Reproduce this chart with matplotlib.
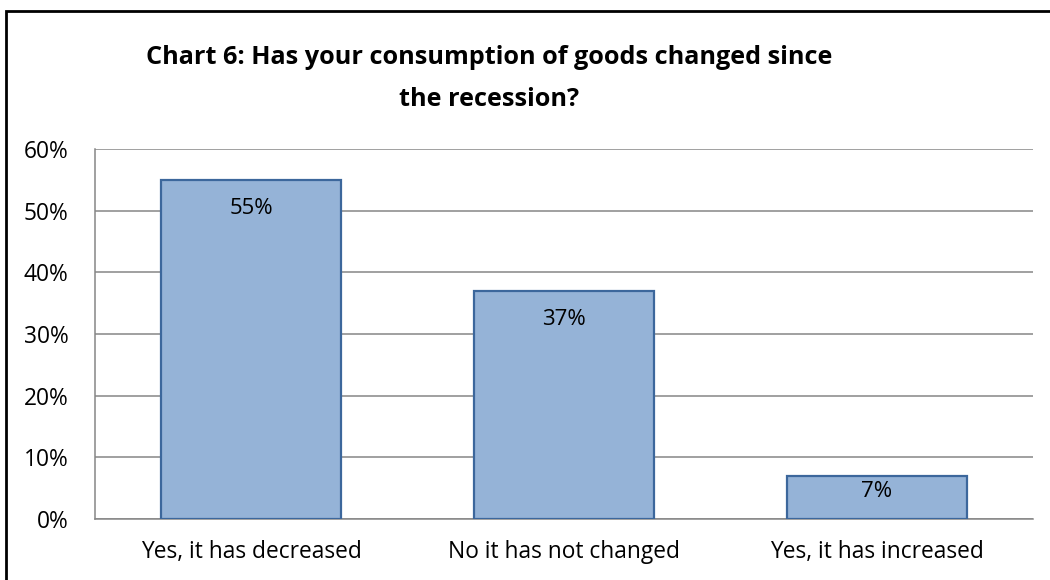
import numpy as np
import matplotlib.pyplot as plt
from matplotlib.patches import Rectangle
from matplotlib.ticker import PercentFormatter

categories = ["Yes, it has decreased", "No it has not changed", "Yes, it has increased"]
shares = [55, 37, 7]
y_ticks = [0, 10, 20, 30, 40, 50, 60]
title = "Chart 6: Has your consumption of goods changed since\nthe recession?"

plt.rcParams["font.family"] = ["Open Sans", "DejaVu Sans"]

fig = plt.figure(figsize=(10.5, 5.8), dpi=100)
ax = fig.add_axes([0.0905, 0.1052, 0.8933, 0.6379])

x = np.arange(len(categories))
bars = ax.bar(x, shares, width=0.575, color="#95B3D7", edgecolor="#3C679C",
              linewidth=1.6, zorder=3)

# labels sit just inside the top of each bar (pixel offsets)
label_drop_px = [29, 29, 16]
for rect, val, drop in zip(bars, shares, label_drop_px):
    ax.annotate(f"{val}%", (rect.get_x() + rect.get_width() / 2, val),
                xytext=(0, -drop * 72 / fig.dpi), textcoords="offset points",
                ha="center", va="center", fontsize=16, color="black", zorder=4)

ax.set_xlim(-0.5, len(categories) - 0.5)
ax.set_ylim(0, 60)
ax.set_yticks(y_ticks)
ax.yaxis.set_major_formatter(PercentFormatter(decimals=0))
ax.set_xticks(x)
ax.set_xticklabels(categories)
ax.tick_params(axis="both", length=0, labelsize=16.4)
ax.tick_params(axis="y", pad=19)
ax.tick_params(axis="x", pad=15)

ax.grid(axis="y", color="#868686", linewidth=1.1, zorder=0)
for side in ("top", "right"):
    ax.spines[side].set_visible(False)
for side in ("left", "bottom"):
    ax.spines[side].set_color("#868686")
    ax.spines[side].set_linewidth(1.1)

# two-line title, placed line by line for the wider gap
title_lines = title.split("\n")
for line, y_px in zip(title_lines, [57, 99]):
    fig.text(489 / 1050, 1 - y_px / 580, line, ha="center", va="center",
             fontsize=18.2, fontweight="bold")

# outer chart frame
fig.patches.append(Rectangle((6 / 1050, -0.05), 1.1, 1 - 11 / 580 + 0.05,
                             transform=fig.transFigure, fill=False,
                             edgecolor="black", linewidth=2))

fig.savefig("out.png", dpi=100)
